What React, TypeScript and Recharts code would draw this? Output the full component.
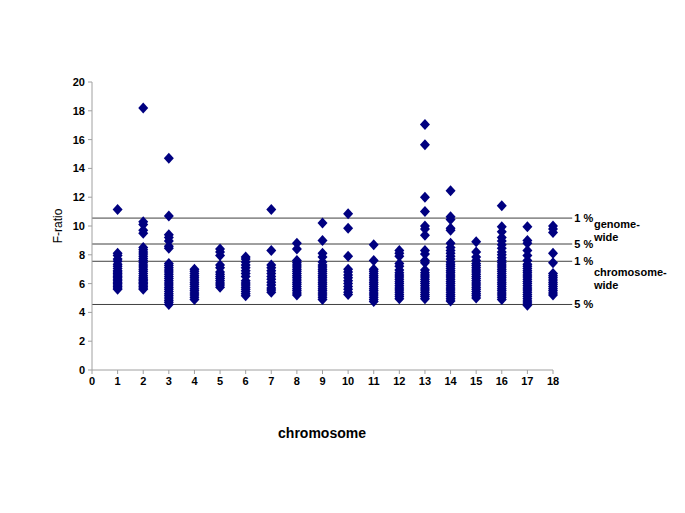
import React from "react";
import {
  ScatterChart,
  Scatter,
  XAxis,
  YAxis,
  ReferenceLine,
} from "recharts";

// F-ratio values, one array per chromosome
const chr1 = [11.15, 8.1, 7.95, 7.7, 7.55, 7.35, 7.2, 7.05, 6.9, 6.8, 6.7, 6.6, 6.5, 6.4, 6.3, 6.2, 6.1, 6.0, 5.9, 5.8, 5.7, 5.6];
const chr2 = [18.2, 10.3, 10.1, 9.7, 9.5, 8.5, 8.35, 8.2, 8.05, 7.9, 7.75, 7.6, 7.45, 7.3, 7.15, 7.0, 6.85, 6.7, 6.55, 6.4, 6.3, 6.2, 6.1, 6.0, 5.9, 5.8, 5.7, 5.6];
const chr3 = [14.7, 10.7, 9.4, 9.2, 8.95, 8.6, 8.45, 7.4, 7.25, 7.1, 6.95, 6.8, 6.65, 6.5, 6.35, 6.2, 6.05, 5.9, 5.75, 5.6, 5.45, 5.3, 5.15, 5.0, 4.85, 4.7, 4.55];
const chr4 = [7.0, 6.85, 6.7, 6.55, 6.4, 6.25, 6.1, 5.95, 5.8, 5.65, 5.5, 5.35, 5.2, 5.05, 4.9];
const chr5 = [8.4, 8.2, 7.95, 7.3, 7.1, 6.8, 6.65, 6.5, 6.35, 6.2, 6.05, 5.9, 5.75];
const chr6 = [7.85, 7.7, 7.5, 7.3, 7.1, 6.9, 6.7, 6.5, 6.2, 6.05, 5.9, 5.75, 5.6, 5.45, 5.3, 5.15];
const chr7 = [11.15, 8.3, 7.3, 7.1, 6.9, 6.7, 6.5, 6.3, 6.1, 5.9, 5.7, 5.55, 5.4];
const chr8 = [8.8, 8.4, 7.6, 7.45, 7.3, 7.15, 7.0, 6.85, 6.7, 6.55, 6.4, 6.25, 6.1, 5.95, 5.8, 5.65, 5.5, 5.35, 5.2];
const chr9 = [10.2, 9.0, 8.1, 7.85, 7.5, 7.3, 7.15, 7.0, 6.85, 6.7, 6.55, 6.4, 6.25, 6.1, 5.95, 5.8, 5.65, 5.5, 5.35, 5.2, 5.05, 4.9];
const chr10 = [10.85, 9.85, 7.9, 7.0, 6.8, 6.6, 6.4, 6.2, 6.0, 5.8, 5.6, 5.4, 5.25];
const chr11 = [8.7, 7.6, 7.0, 6.85, 6.7, 6.55, 6.4, 6.25, 6.1, 5.95, 5.8, 5.65, 5.5, 5.35, 5.2, 5.05, 4.9, 4.75];
const chr12 = [8.3, 8.1, 7.9, 7.4, 7.2, 6.95, 6.75, 6.6, 6.45, 6.3, 6.15, 6.0, 5.85, 5.7, 5.55, 5.4, 5.25, 5.1, 4.95];
const chr13 = [17.05, 15.65, 12.0, 11.0, 10.0, 9.8, 9.35, 8.3, 8.05, 7.6, 7.45, 6.95, 6.75, 6.6, 6.45, 6.3, 6.15, 6.0, 5.85, 5.7, 5.55, 5.4, 5.25, 5.1, 4.95];
const chr14 = [12.45, 10.65, 10.45, 9.85, 9.7, 8.8, 8.5, 8.3, 8.1, 7.9, 7.7, 7.5, 7.35, 7.2, 7.05, 6.9, 6.75, 6.6, 6.45, 6.3, 6.15, 6.0, 5.85, 5.7, 5.55, 5.4, 5.25, 5.1, 4.95, 4.8];
const chr15 = [8.9, 8.2, 7.85, 7.6, 7.4, 7.25, 7.1, 6.95, 6.8, 6.65, 6.5, 6.35, 6.2, 6.05, 5.9, 5.75, 5.6, 5.45, 5.3, 5.15, 5.0];
const chr16 = [11.4, 9.95, 9.6, 9.2, 8.95, 8.7, 8.45, 8.2, 8.0, 7.8, 7.6, 7.45, 7.3, 7.15, 7.0, 6.85, 6.7, 6.55, 6.4, 6.25, 6.1, 5.95, 5.8, 5.65, 5.5, 5.35, 5.2, 5.05, 4.9];
const chr17 = [9.95, 9.0, 8.8, 8.3, 7.95, 7.6, 7.35, 7.2, 7.05, 6.9, 6.75, 6.6, 6.45, 6.3, 6.15, 6.0, 5.85, 5.7, 5.55, 5.4, 5.25, 5.1, 4.95, 4.8, 4.65, 4.5];
const chr18 = [10.0, 9.8, 9.55, 8.1, 7.45, 6.7, 6.55, 6.4, 6.25, 6.1, 5.95, 5.8, 5.65, 5.5, 5.35, 5.2];

const chromosomes = [chr1, chr2, chr3, chr4, chr5, chr6, chr7, chr8, chr9, chr10, chr11, chr12, chr13, chr14, chr15, chr16, chr17, chr18];

const xTicks = [0, 1, 2, 3, 4, 5, 6, 7, 8, 9, 10, 11, 12, 13, 14, 15, 16, 17, 18];
const yTicks = [0, 2, 4, 6, 8, 10, 12, 14, 16, 18, 20];

// significance thresholds (genome-wide 1%/5%, chromosome-wide 1%/5%)
const thresholds = [
  { y: 10.55, label: "1 %" },
  { y: 8.75, label: "5 %" },
  { y: 7.55, label: "1 %" },
  { y: 4.55, label: "5 %" },
];

const points = chromosomes.flatMap((vals, i) =>
  vals.map((v) => ({ chr: i + 1, f: v }))
);

const font = "'Liberation Sans', Arial, sans-serif";

const Diamond = (props: any) => {
  const { cx, cy } = props;
  if (cx == null || cy == null) return null;
  return (
    <path
      d={`M${cx},${cy - 5.5} L${cx + 5},${cy} L${cx},${cy + 5.5} L${cx - 5},${cy} Z`}
      fill="#000080"
    />
  );
};

const tickStyle = { fontSize: 11, fontWeight: 700, fill: "#000", fontFamily: font };

export default function App() {
  return (
    <div style={{ position: "absolute", left: 0, top: 0, width: 685, height: 513, background: "#fff" }}>
      <ScatterChart
        width={685}
        height={513}
        margin={{ top: 82, right: 132, left: 62, bottom: 113 }}
      >
        <XAxis
          type="number"
          dataKey="chr"
          domain={[0, 18]}
          ticks={xTicks}
          interval={0}
          height={30}
          stroke="#a0a0a0"
          tickSize={4}
          tickMargin={3}
          tick={tickStyle}
        />
        <YAxis
          type="number"
          dataKey="f"
          domain={[0, 20]}
          ticks={yTicks}
          interval={0}
          width={30}
          stroke="#a0a0a0"
          tickSize={4}
          tickMargin={3}
          tick={tickStyle}
        />
        {thresholds.map((t, i) => (
          <ReferenceLine
            key={i}
            segment={[{ x: 0, y: t.y }, { x: 18.75, y: t.y }]}
            ifOverflow="visible"
            stroke="#404040"
            strokeWidth={1}
            label={{
              value: t.label,
              position: "right",
              offset: 2,
              fill: "#000",
              fontSize: 11,
              fontWeight: 700,
              fontFamily: font,
            }}
          />
        ))}
        <Scatter
          data={points}
          shape={<Diamond />}
          isAnimationActive={false}
        />
      </ScatterChart>
      <div
        style={{
          position: "absolute",
          left: 58,
          top: 226,
          transform: "translate(-50%, -50%) rotate(-90deg)",
          fontFamily: font,
          fontSize: 12,
          whiteSpace: "nowrap",
        }}
      >
        F-ratio
      </div>
      <div
        style={{
          position: "absolute",
          left: 322,
          top: 433,
          transform: "translate(-50%, -50%)",
          fontFamily: font,
          fontSize: 14,
          fontWeight: 700,
        }}
      >
        chromosome
      </div>
      <div
        style={{
          position: "absolute",
          left: 594,
          top: 218,
          fontFamily: font,
          fontSize: 11,
          fontWeight: 700,
          lineHeight: "13px",
        }}
      >
        genome-
        <br />
        wide
      </div>
      <div
        style={{
          position: "absolute",
          left: 594,
          top: 266,
          fontFamily: font,
          fontSize: 11,
          fontWeight: 700,
          lineHeight: "13px",
        }}
      >
        chromosome-
        <br />
        wide
      </div>
    </div>
  );
}
